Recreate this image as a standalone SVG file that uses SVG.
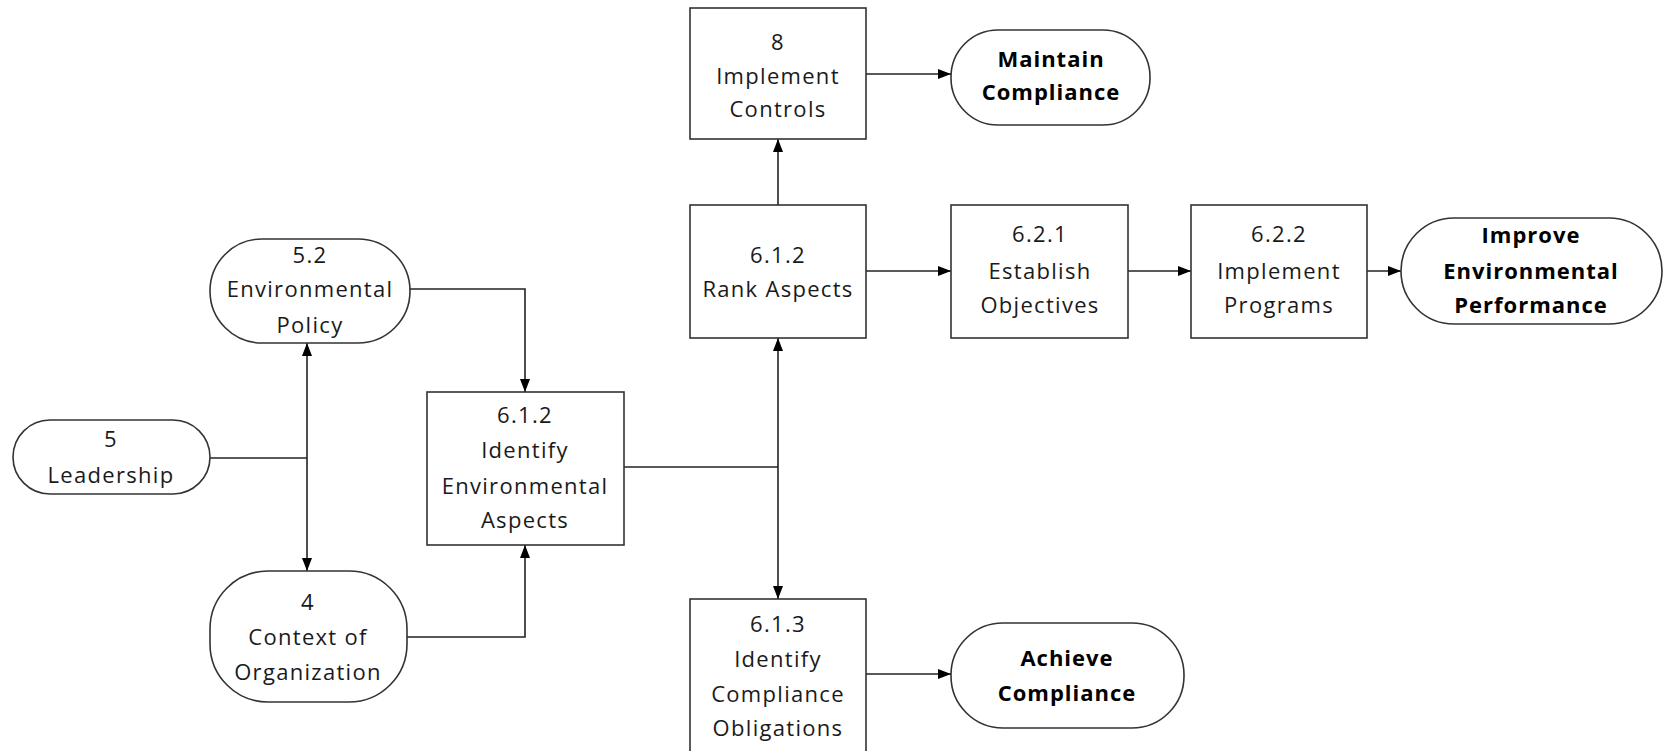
<svg xmlns="http://www.w3.org/2000/svg" width="1665" height="751" viewBox="0 0 1665 751">
<style>
.shape{fill:#fff;stroke:#333;stroke-width:1.6}
.t{font-family:"Open Sans","Liberation Sans",sans-serif;font-size:22px;fill:#1a1a1a;text-anchor:middle;letter-spacing:1.3px}
.b{font-weight:bold;letter-spacing:1px;fill:#000}
.c{fill:none;stroke:#222;stroke-width:1.6}
</style>
<defs>
<marker id="ah" markerUnits="userSpaceOnUse" markerWidth="14" markerHeight="12" refX="13" refY="6" orient="auto-start-reverse" viewBox="0 0 14 12">
<path d="M0,1 L13,6 L0,11 Z" fill="#000"/>
</marker>
</defs>
<rect width="1665" height="751" fill="#fff"/>
<g id="connectors">
<path class="c" d="M410,289 H525 V392" marker-end="url(#ah)"/>
<path class="c" d="M210,458 H307"/>
<path class="c" d="M307,343 V571" marker-start="url(#ah)" marker-end="url(#ah)"/>
<path class="c" d="M407,637 H525 V545" marker-end="url(#ah)"/>
<path class="c" d="M624,467 H778"/>
<path class="c" d="M778,338 V599" marker-start="url(#ah)" marker-end="url(#ah)"/>
<path class="c" d="M778,205 V139" marker-end="url(#ah)"/>
<path class="c" d="M866,74 H951" marker-end="url(#ah)"/>
<path class="c" d="M866,271 H951" marker-end="url(#ah)"/>
<path class="c" d="M1128,271 H1191" marker-end="url(#ah)"/>
<path class="c" d="M1367,271 H1401" marker-end="url(#ah)"/>
<path class="c" d="M866,674 H951" marker-end="url(#ah)"/>
</g>
<g id="n_policy">
<rect class="shape" x="210" y="239" width="200" height="104" rx="52" ry="52"/>
<text class="t" x="310" y="263">5.2</text>
<text class="t" x="310" y="297">Environmental</text>
<text class="t" x="310" y="333">Policy</text>
</g>
<g id="n_leadership">
<rect class="shape" x="13" y="420" width="197" height="74" rx="37" ry="37"/>
<text class="t" x="111" y="447">5</text>
<text class="t" x="111" y="483">Leadership</text>
</g>
<g id="n_context">
<rect class="shape" x="210" y="571" width="197" height="131" rx="58" ry="58"/>
<text class="t" x="308" y="610">4</text>
<text class="t" x="308" y="645">Context of</text>
<text class="t" x="308" y="680">Organization</text>
</g>
<g id="n_identify_env">
<rect class="shape" x="427" y="392" width="197" height="153"/>
<text class="t" x="525" y="423">6.1.2</text>
<text class="t" x="525" y="458">Identify</text>
<text class="t" x="525" y="494">Environmental</text>
<text class="t" x="525" y="528">Aspects</text>
</g>
<g id="n_controls">
<rect class="shape" x="690" y="8" width="176" height="131"/>
<text class="t" x="778" y="50">8</text>
<text class="t" x="778" y="84">Implement</text>
<text class="t" x="778" y="117">Controls</text>
</g>
<g id="n_maintain">
<rect class="shape" x="951" y="30" width="199" height="95" rx="47" ry="47"/>
<text class="t b" x="1051" y="67">Maintain</text>
<text class="t b" x="1051" y="100">Compliance</text>
</g>
<g id="n_rank">
<rect class="shape" x="690" y="205" width="176" height="133"/>
<text class="t" x="778" y="263">6.1.2</text>
<text class="t" x="778" y="297">Rank Aspects</text>
</g>
<g id="n_objectives">
<rect class="shape" x="951" y="205" width="177" height="133"/>
<text class="t" x="1040" y="242">6.2.1</text>
<text class="t" x="1040" y="279">Establish</text>
<text class="t" x="1040" y="313">Objectives</text>
</g>
<g id="n_programs">
<rect class="shape" x="1191" y="205" width="176" height="133"/>
<text class="t" x="1279" y="242">6.2.2</text>
<text class="t" x="1279" y="279">Implement</text>
<text class="t" x="1279" y="313">Programs</text>
</g>
<g id="n_improve">
<rect class="shape" x="1401" y="218" width="261" height="106" rx="53" ry="53"/>
<text class="t b" x="1531" y="243">Improve</text>
<text class="t b" x="1531" y="279">Environmental</text>
<text class="t b" x="1531" y="313">Performance</text>
</g>
<g id="n_obligations">
<rect class="shape" x="690" y="599" width="176" height="160"/>
<text class="t" x="778" y="632">6.1.3</text>
<text class="t" x="778" y="667">Identify</text>
<text class="t" x="778" y="702">Compliance</text>
<text class="t" x="778" y="736">Obligations</text>
</g>
<g id="n_achieve">
<rect class="shape" x="951" y="623" width="233" height="105" rx="52" ry="52"/>
<text class="t b" x="1067" y="666">Achieve</text>
<text class="t b" x="1067" y="701">Compliance</text>
</g>
</svg>
